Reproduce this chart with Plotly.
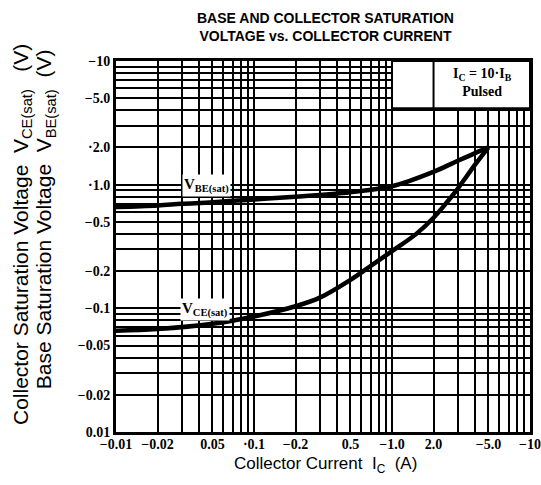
import math
import plotly.graph_objects as go

# ---- data ----
ic_vbe = [0.01, 0.02, 0.03, 0.05, 0.1, 0.2, 0.5, 1.0, 2.0, 3.0, 4.0, 5.0]
vbe_sat = [0.66, 0.68, 0.70, 0.72, 0.76, 0.80, 0.87, 0.97, 1.27, 1.56, 1.80, 2.0]

ic_vce = [0.01, 0.02, 0.05, 0.1, 0.2, 0.3, 0.5, 0.7, 1.0, 1.5, 2.0, 2.5, 3.0, 4.0, 5.0]
vce_sat = [0.066, 0.068, 0.075, 0.086, 0.104, 0.122, 0.17, 0.22, 0.29, 0.40, 0.54, 0.72, 0.93, 1.45, 2.0]

x_tick_values = [0.01, 0.02, 0.05, 0.1, 0.2, 0.5, 1.0, 2.0, 5.0, 10]
x_tick_labels = ["−0.01", "−0.02", "0.05", "·0.1", "−0.2", "0.5", "−1.0", "2.0", "−5.0", "−10"]
y_tick_values = [0.01, 0.02, 0.05, 0.1, 0.2, 0.5, 1.0, 2.0, 5.0, 10]
y_tick_labels = ["0.01", "−0.02", "−0.05", "−0.1", "−0.2", "−0.5", "·1.0", "·2.0", "−5.0", "−10"]

decades = [-2, -1, 0]
grid_values = [round(m * 10 ** e, 4) for e in decades for m in range(1, 10)] + [10]


def tick_text(values, labels):
    lut = {round(v, 4): t for v, t in zip(values, labels)}
    return [lut.get(round(g, 4), "") for g in grid_values]


def lg(v):
    return math.log10(v)


serif = "Liberation Serif"
sans = "Liberation Sans"

fig = go.Figure()
fig.add_trace(go.Scatter(x=ic_vbe, y=vbe_sat, mode="lines",
                         line=dict(color="black", width=4.5, shape="spline", smoothing=1.0),
                         showlegend=False, name="VBE(sat)"))
fig.add_trace(go.Scatter(x=ic_vce, y=vce_sat, mode="lines",
                         line=dict(color="black", width=4.5, shape="spline", smoothing=1.0),
                         showlegend=False, name="VCE(sat)"))

axis_common = dict(
    type="log", showgrid=True, gridcolor="black", gridwidth=2,
    showline=True, linecolor="black", linewidth=3, mirror=True,
    ticks="", zeroline=False, automargin=False,
    tickfont=dict(family=serif, size=14, color="black", weight="bold"),
)
fig.update_xaxes(range=[-2, 1], tickmode="array", tickvals=grid_values, ticklabelstandoff=-3,
                 ticktext=tick_text(x_tick_values, x_tick_labels), **axis_common)
fig.update_yaxes(range=[-2, 1], tickmode="array", tickvals=grid_values,
                 ticktext=tick_text(y_tick_values, y_tick_labels), **axis_common)

# condition box (top right)
fig.add_shape(type="rect", xref="x", yref="y", x0=1.0, x1=10, y0=4.15, y1=10,
              fillcolor="white", line=dict(color="black", width=2), layer="between")
fig.add_shape(type="line", xref="x", yref="y", x0=2.0, x1=2.0, y0=4.15, y1=10,
              line=dict(color="black", width=2), layer="between")

annotations = [
    dict(x=lg(4.5), y=lg(6.7), xref="x", yref="y", showarrow=False,
         xanchor="center", yanchor="middle",
         text="I<sub>C</sub> = 10·I<sub>B</sub><br>Pulsed",
         font=dict(family=serif, size=14, color="black", weight="bold")),
    dict(x=lg(0.045), y=lg(0.98), xref="x", yref="y", showarrow=False,
         xanchor="center", yanchor="middle",
         text="V<sub>BE(sat)</sub>", bgcolor="white",
         font=dict(family=serif, size=15, color="black", weight="bold")),
    dict(x=lg(0.044), y=lg(0.097), xref="x", yref="y", showarrow=False,
         xanchor="center", yanchor="middle",
         text="V<sub>CE(sat)</sub>", bgcolor="white",
         font=dict(family=serif, size=15, color="black", weight="bold")),
    dict(x=0.505, y=1.092, xref="paper", yref="paper", showarrow=False,
         xanchor="center", yanchor="middle",
         text="BASE AND COLLECTOR SATURATION<br>VOLTAGE vs. COLLECTOR CURRENT",
         font=dict(family=sans, size=14, color="black", weight="bold")),
    dict(x=0.505, y=-0.089, xref="paper", yref="paper", showarrow=False,
         xanchor="center", yanchor="middle",
         text="Collector Current  I<sub>C</sub>  (A)",
         font=dict(family=sans, size=17, color="black")),
    dict(x=-0.227, y=0.531, xref="paper", yref="paper", showarrow=False, textangle=-90,
         xanchor="center", yanchor="middle",
         text="Collector Saturation Voltage  V<sub>CE(sat)</sub>   (V)",
         font=dict(family=sans, size=21, color="black")),
    dict(x=-0.171, y=0.574, xref="paper", yref="paper", showarrow=False, textangle=-90,
         xanchor="center", yanchor="middle",
         text="Base Saturation Voltage  V<sub>BE(sat)</sub>  (V)",
         font=dict(family=sans, size=21, color="black")),
]

fig.update_layout(
    width=541, height=485,
    margin=dict(l=116, r=11, t=61, b=53, autoexpand=False),
    paper_bgcolor="white", plot_bgcolor="white",
    annotations=annotations,
    showlegend=False,
)

# remove the browser's default body margin so the figure fills the window exactly
fig.write_html(
    "out.html",
    config={"displayModeBar": False},
    post_script="document.body.style.margin='0';document.body.style.overflow='hidden';",
)
